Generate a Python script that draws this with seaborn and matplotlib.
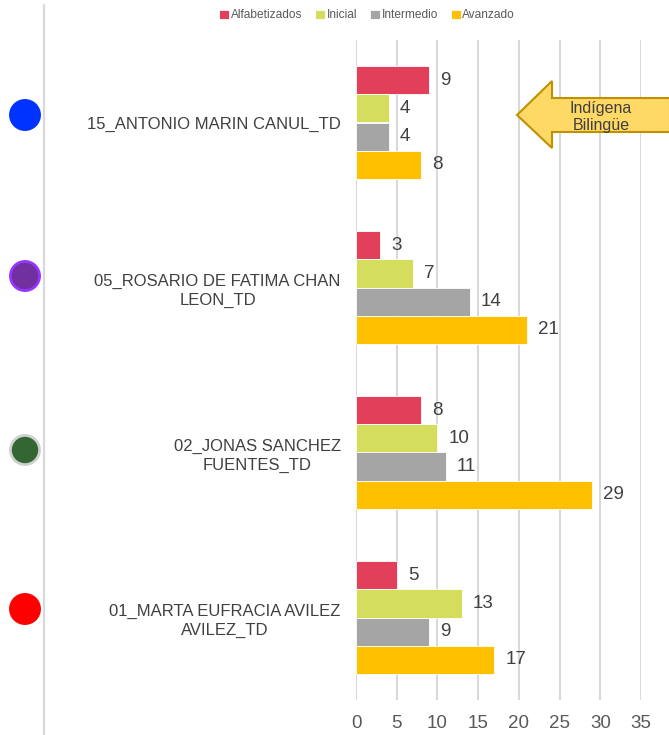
import pandas as pd
import seaborn as sns
import matplotlib.pyplot as plt
from matplotlib.patches import Polygon

docentes = ['15_ANTONIO MARIN CANUL_TD',
            '05_ROSARIO DE FATIMA CHAN\nLEON_TD',
            '02_JONAS SANCHEZ\nFUENTES_TD',
            '01_MARTA EUFRACIA AVILEZ\nAVILEZ_TD']
niveles = ['Alfabetizados', 'Inicial', 'Intermedio', 'Avanzado']
alfabetizados = [9, 3, 8, 5]
inicial = [4, 7, 10, 13]
intermedio = [4, 14, 11, 9]
avanzado = [8, 21, 29, 17]
colores = ['#E2405A', '#D4DD5C', '#A5A5A5', '#FFC000']
xticks = [0, 5, 10, 15, 20, 25, 30, 35]

# circle markers next to each teacher (pixel positions)
circ_y = [115, 276, 450, 609]
circ_face = ['#0033FF', '#7030A0', '#336633', '#FF0000']
circ_edge = ['#0033FF', '#9933FF', '#D0D0D0', '#FF0000']

df = pd.DataFrame({
    'docente': docentes * 4,
    'nivel': [n for n in niveles for _ in docentes],
    'valor': alfabetizados + inicial + intermedio + avanzado,
})

sns.set_style('white')
plt.rcParams['font.family'] = ['Liberation Sans', 'DejaVu Sans']

fig = plt.figure(figsize=(6.69, 7.35), dpi=100)
ax = fig.add_axes([356 / 669, 35 / 735, 285 / 669, 660 / 735])

sns.barplot(data=df, x='valor', y='docente', hue='nivel', order=docentes,
            hue_order=niveles, palette=colores, saturation=1, orient='h',
            width=0.685, errorbar=None, edgecolor='white', linewidth=0.6, ax=ax)

for cont in ax.containers:
    ax.bar_label(cont, padding=8, fontsize=13.5, color='#404040')

ax.set_xlim(0, 35)
ax.set_ylim(3.5, -0.5)
ax.set_xticks(xticks)
ax.set_xlabel('')
ax.set_ylabel('')
ax.grid(axis='x', color='#D9D9D9', linewidth=1.5)
ax.set_axisbelow(True)
for s in ax.spines.values():
    s.set_visible(False)
ax.tick_params(axis='x', length=0, pad=11, labelsize=13.5, labelcolor='#595959')
ax.tick_params(axis='y', length=0, pad=11, labelsize=12, labelcolor='#404040')
for t in ax.get_yticklabels():
    t.set_multialignment('center')
    t.set_linespacing(1.3)

handles, labels = ax.get_legend_handles_labels()
ax.legend(handles, labels, loc='center', bbox_to_anchor=(0.549, 0.979),
          bbox_transform=fig.transFigure, ncol=4, frameon=False, fontsize=8.6,
          handlelength=0.8, handleheight=0.8, handletextpad=0.15,
          columnspacing=1.1, labelcolor='#595959')

# overlay in pixel coordinates for line, circles and arrow
ov = fig.add_axes([0, 0, 1, 1], zorder=5)
ov.patch.set_alpha(0)
ov.set_xlim(0, 669)
ov.set_ylim(735, 0)
ov.axis('off')
ov.plot([44, 44], [5, 735], color='#D9D9D9', linewidth=1.6)
ov.scatter([25] * 4, circ_y, s=440, c=circ_face, edgecolors=circ_edge, linewidths=2)

arrow = [(517, 115), (552, 81), (552, 98), (670, 98), (670, 132),
         (552, 132), (552, 148)]
ov.add_patch(Polygon(arrow, closed=True, facecolor='#FFD966',
                     edgecolor='#BF9000', linewidth=1.5))
ov.text(601, 117, 'Indígena\nBilingüe', ha='center', va='center',
        fontsize=11.5, color='#404040', linespacing=1.15)

fig.savefig('out.png', dpi=100)
